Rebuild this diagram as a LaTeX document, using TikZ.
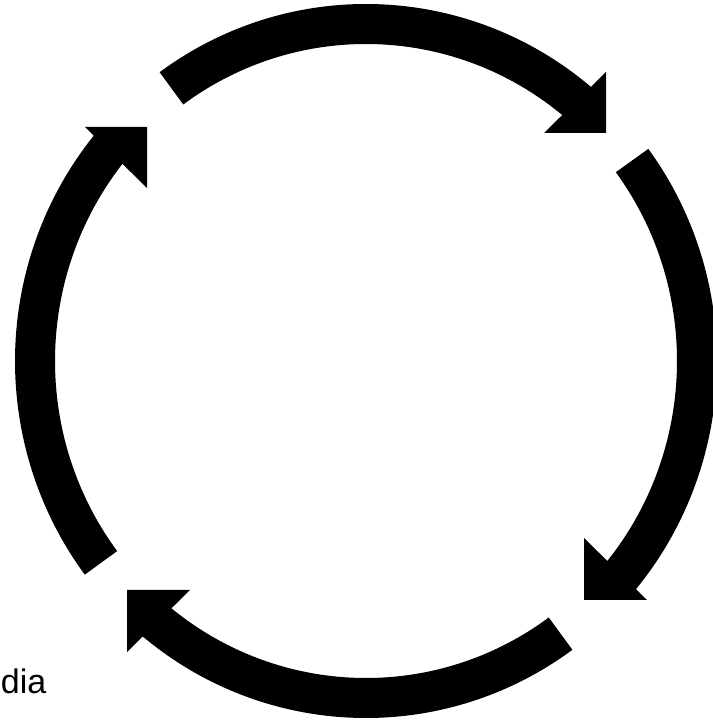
\documentclass[tikz,border=0pt]{standalone}
\usepackage{fontspec}
\setmainfont{Liberation Sans}
\begin{document}
\begin{tikzpicture}[x=1pt,y=1pt,
  shaft/.style={line width=40pt,black},
  head/.style={fill=black,draw=none}]
\useasboundingbox (0,0) rectangle (712,720);
\coordinate (c) at (366,359);
% top arc -> top-right head
\draw[shaft] ([shift={(126:331pt and 337pt)}]c) arc[start angle=126,end angle=49,x radius=331pt,y radius=337pt];
\fill[head] (606,587) -- (544,587) -- (606,648) -- cycle;
% right arc -> bottom-right head
\draw[shaft] ([shift={(36.5:331pt and 337pt)}]c) arc[start angle=36.5,end angle=-41,x radius=331pt,y radius=337pt];
\fill[head] (584,120) -- (584,182) -- (647,120) -- cycle;
% bottom arc -> bottom-left head
\draw[shaft] ([shift={(-54:331pt and 337pt)}]c) arc[start angle=-54,end angle=-130,x radius=331pt,y radius=337pt];
\fill[head] (127,130) -- (190,130) -- (127,68) -- cycle;
% left arc -> top-left head
\draw[shaft] ([shift={(-143.2:331pt and 337pt)}]c) arc[start angle=-143.2,end angle=-220,x radius=331pt,y radius=337pt];
\fill[head] (147,593) -- (85,593) -- (147,532) -- cycle;
\node (lbl) [anchor=base east,inner sep=0pt,font=\fontsize{34}{34}\selectfont] at (46.5,27) {dia};
\end{tikzpicture}
\end{document}
